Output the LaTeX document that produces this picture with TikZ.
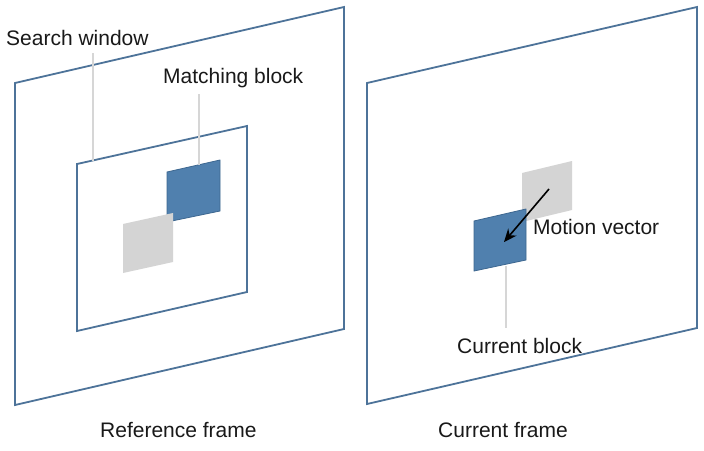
\documentclass[tikz,border=0pt]{standalone}
\usepackage{fontspec}
\setmainfont{Liberation Sans}
\usetikzlibrary{arrows.meta}
\definecolor{frameblue}{HTML}{4D7399}
\definecolor{blockfill}{HTML}{5080AE}
\definecolor{blockedge}{HTML}{3D6790}
\definecolor{greyblock}{HTML}{D4D4D4}
\definecolor{leader}{HTML}{D6D6D6}
\tikzset{
  framebox/.style={draw=frameblue, line width=1.8pt, line join=miter},
  blueblock/.style={fill=blockfill, draw=blockedge, line width=0.8pt},
  greyblk/.style={fill=greyblock},
  leaderline/.style={draw=leader, line width=1.2pt},
  lbl/.style={font=\fontsize{21}{25}\selectfont, text=black!90, inner sep=0pt, anchor=base west},
  mv/.style={draw=black, line width=1.6pt, -{Stealth[length=13pt,width=11pt]}}
}
\begin{document}
\begin{tikzpicture}[x=1pt,y=-1pt]
\useasboundingbox (0,0) rectangle (704,450);
\fill[white] (0,0) rectangle (704,450);
% left: reference frame
\draw[framebox] (15,83) -- (344,7) -- (344,329) -- (15,405) -- cycle;
\draw[framebox] (77,164) -- (247,126) -- (247,292) -- (77,331) -- cycle;
\path[blueblock] (167,172) -- (220,160) -- (220,211) -- (167,222) -- cycle;
\path[greyblk] (123,224) -- (173,213) -- (173,262) -- (123,273) -- cycle;
% right: current frame
\draw[framebox] (367,83) -- (697,7) -- (697,328) -- (367,404) -- cycle;
\path[greyblk] (522,173) -- (572,161) -- (572,210) -- (522,222) -- cycle;
\path[blueblock] (474,221) -- (526,209) -- (526,260) -- (474,271) -- cycle;
% labels
\node[lbl] (sw) at (6,45) {Search window};
\node[lbl] (mb) at (163,83) {Matching block};
\node[lbl] (rf) at (100,437) {Reference frame};
\node[lbl] (cf) at (438,437) {Current frame};
\node[lbl] (mvl) at (533,234) {Motion vector};
\node[lbl] (cb) at (457,353) {Current block};
% leader lines
\coordinate (swtop) at (93,53);
\coordinate (swbot) at (93,160.5);
\coordinate (mbtop) at (199,94);
\coordinate (mbbot) at (199,165);
\coordinate (cbtop) at (506,266);
\coordinate (cbbot) at (506,328);
\draw[leaderline] (swtop) -- (swbot);
\draw[leaderline] (mbtop) -- (mbbot);
\draw[leaderline] (cbtop) -- (cbbot);
% motion vector
\coordinate (mvs) at (549,189);
\coordinate (mve) at (504,242);
\draw[mv] (mvs) -- (mve);
\end{tikzpicture}
\end{document}
